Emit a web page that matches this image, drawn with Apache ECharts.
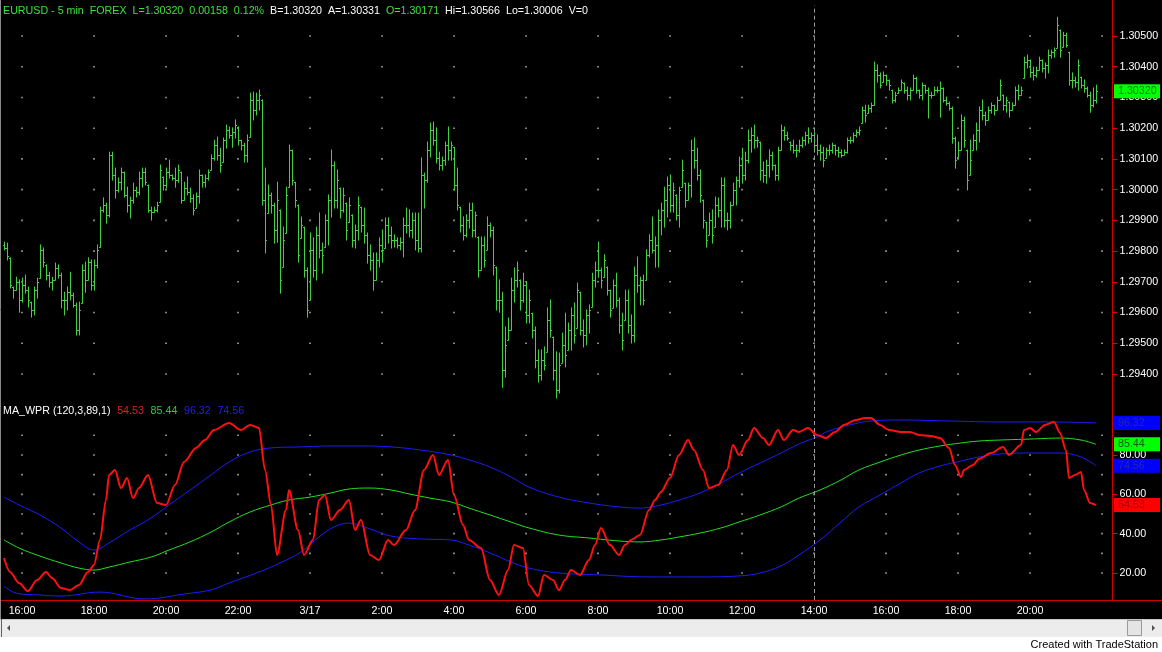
<!DOCTYPE html>
<html>
<head>
<meta charset="utf-8">
<script src="https://cdn.jsdelivr.net/npm/echarts@6.0.0/dist/echarts.min.js"></script>
<style>
html,body{margin:0;padding:0;background:#fff;}
#chart{width:1162px;height:652px;}
</style>
</head>
<body>
<div id="chart"></div>
<script>
// ---- time axis: 5-minute bars from 3/16 15:30 (extra empty slots at the end) ----
const startDay = 16, startMinute = 15 * 60 + 30, slotCount = 370, barMinutes = 5;
const categories = [];
for (let k = 0; k < slotCount; k++) {
  const t = startMinute + k * barMinutes;
  const d = startDay + Math.floor(t / 1440);
  const m = t % 1440;
  categories.push('3/' + d + ' ' + Math.floor(m / 60) + ':' + String(m % 60).padStart(2, '0'));
}

// ---- EURUSD 5 min OHLC ----
const opens = [1.29820,1.29810,1.29778,1.29683,1.29673,1.29699,1.29641,1.29690,1.29673,1.29634,
1.29608,1.29673,1.29712,1.29804,1.29755,1.29722,1.29699,1.29706,1.29745,1.29722,
1.29641,1.29641,1.29666,1.29657,1.29625,1.29543,1.29631,1.29738,1.29706,1.29764,
1.29690,1.29755,1.29813,1.29934,1.29950,1.29918,1.30113,1.30048,1.29999,1.30024,
1.30057,1.29983,1.29950,1.29966,1.29999,1.29992,1.30038,1.30057,1.30015,1.29934,
1.29927,1.29934,1.29959,1.30041,1.30015,1.30057,1.30048,1.30038,1.30031,1.30057,
1.29966,1.30005,1.29992,1.29973,1.29940,1.29979,1.30048,1.30024,1.30038,1.30064,
1.30103,1.30145,1.30113,1.30090,1.30161,1.30194,1.30178,1.30187,1.30204,1.30161,
1.30145,1.30113,1.30171,1.30292,1.30259,1.30292,1.30292,1.29966,1.29924,1.29983,
1.29950,1.29869,1.29934,1.29748,1.29859,1.30008,1.30129,1.30024,1.29950,1.29843,
1.29878,1.29738,1.29641,1.29804,1.29738,1.29853,1.29804,1.29813,1.29901,1.29966,
1.30080,1.29966,1.30005,1.29934,1.29956,1.29894,1.29918,1.29836,1.29869,1.29943,
1.29885,1.29853,1.29788,1.29771,1.29706,1.29771,1.29820,1.29810,1.29885,1.29853,
1.29836,1.29836,1.29820,1.29829,1.29885,1.29885,1.29869,1.29901,1.29836,1.29810,
1.30048,1.30031,1.30129,1.30194,1.30161,1.30103,1.30080,1.30096,1.30145,1.30129,
1.30138,1.30015,1.29943,1.29885,1.29853,1.29901,1.29934,1.29869,1.29846,1.29738,
1.29820,1.29804,1.29885,1.29869,1.29748,1.29641,1.29641,1.29413,1.29511,1.29543,
1.29673,1.29706,1.29706,1.29641,1.29690,1.29592,1.29598,1.29543,1.29446,1.29397,
1.29446,1.29472,1.29576,1.29520,1.29413,1.29348,1.29436,1.29495,1.29478,1.29543,
1.29592,1.29550,1.29666,1.29543,1.29527,1.29592,1.29618,1.29706,1.29738,1.29738,
1.29715,1.29748,1.29673,1.29615,1.29690,1.29641,1.29560,1.29576,1.29641,1.29560,
1.29527,1.29722,1.29690,1.29706,1.29706,1.29788,1.29836,1.29804,1.29820,1.29901,
1.29934,1.29966,1.30015,1.29950,1.29983,1.29918,1.30008,1.30021,1.29966,1.30015,
1.30129,1.30096,1.30048,1.29966,1.29894,1.29853,1.29901,1.29878,1.29950,1.29934,
1.30015,1.29901,1.29901,1.29950,1.29999,1.30031,1.30080,1.30048,1.30096,1.30161,
1.30178,1.30161,1.30155,1.30064,1.30048,1.30080,1.30113,1.30080,1.30048,1.30129,
1.30194,1.30178,1.30155,1.30145,1.30129,1.30129,1.30145,1.30161,1.30178,1.30168,
1.30178,1.30145,1.30129,1.30122,1.30103,1.30129,1.30129,1.30145,1.30129,1.30122,
1.30113,1.30122,1.30161,1.30161,1.30178,1.30187,1.30217,1.30259,1.30249,1.30266,
1.30275,1.30389,1.30373,1.30350,1.30373,1.30357,1.30324,1.30292,1.30314,1.30324,
1.30347,1.30324,1.30308,1.30324,1.30363,1.30324,1.30308,1.30340,1.30324,1.30308,
1.30308,1.30324,1.30324,1.30331,1.30292,1.30282,1.30266,1.30168,1.30106,1.30129,
1.30227,1.30129,1.30048,1.30129,1.30161,1.30194,1.30259,1.30243,1.30227,1.30259,
1.30275,1.30259,1.30292,1.30308,1.30275,1.30285,1.30259,1.30275,1.30324,1.30308,
1.30363,1.30415,1.30422,1.30383,1.30373,1.30389,1.30422,1.30396,1.30406,1.30438,
1.30447,1.30461,1.30519,1.30464,1.30503,1.30447,1.30357,1.30357,1.30350,1.30366,
1.30340,1.30331,1.30308,1.30275,1.30292];
const highs = [1.29829,1.29826,1.29778,1.29683,1.29715,1.29706,1.29712,1.29722,1.29683,1.29634,
1.29683,1.29712,1.29820,1.29810,1.29755,1.29731,1.29715,1.29761,1.29755,1.29728,
1.29666,1.29683,1.29731,1.29663,1.29631,1.29634,1.29755,1.29764,1.29778,1.29771,
1.29771,1.29820,1.29943,1.29973,1.29956,1.30122,1.30122,1.30070,1.30038,1.30070,
1.30057,1.30008,1.29976,1.30021,1.30008,1.30057,1.30070,1.30070,1.30015,1.29943,
1.29943,1.29959,1.30080,1.30041,1.30070,1.30096,1.30048,1.30070,1.30080,1.30057,
1.30024,1.30041,1.30005,1.29983,1.29989,1.30064,1.30048,1.30048,1.30064,1.30113,
1.30161,1.30171,1.30135,1.30168,1.30210,1.30204,1.30201,1.30227,1.30204,1.30161,
1.30151,1.30178,1.30314,1.30317,1.30314,1.30324,1.30292,1.30070,1.30015,1.29989,
1.29956,1.30024,1.29934,1.29878,1.30008,1.30145,1.30129,1.30024,1.29950,1.29911,
1.29878,1.29745,1.29859,1.29843,1.29878,1.29924,1.29826,1.29918,1.29983,1.30129,
1.30090,1.30064,1.30005,1.30005,1.29956,1.29973,1.29918,1.29885,1.29976,1.29943,
1.29940,1.29859,1.29820,1.29794,1.29794,1.29843,1.29869,1.29908,1.29908,1.29878,
1.29853,1.29843,1.29843,1.29908,1.29940,1.29934,1.29924,1.29924,1.29924,1.30103,
1.30054,1.30155,1.30217,1.30220,1.30201,1.30122,1.30106,1.30155,1.30204,1.30155,
1.30138,1.30070,1.29943,1.29911,1.29918,1.29956,1.29956,1.29927,1.29846,1.29846,
1.29846,1.29911,1.29891,1.29878,1.29748,1.29706,1.29666,1.29553,1.29582,1.29712,
1.29745,1.29764,1.29706,1.29728,1.29699,1.29673,1.29598,1.29553,1.29478,1.29478,
1.29488,1.29615,1.29641,1.29520,1.29472,1.29468,1.29533,1.29598,1.29566,1.29615,
1.29631,1.29696,1.29666,1.29576,1.29608,1.29625,1.29728,1.29764,1.29829,1.29745,
1.29788,1.29748,1.29673,1.29706,1.29728,1.29647,1.29598,1.29673,1.29673,1.29592,
1.29748,1.29781,1.29715,1.29722,1.29804,1.29853,1.29911,1.29846,1.29934,1.29956,
1.30008,1.30041,1.30048,1.30021,1.29983,1.30008,1.30096,1.30021,1.30021,1.30161,
1.30168,1.30135,1.30064,1.29966,1.29894,1.29924,1.29934,1.29976,1.29973,1.30038,
1.30038,1.29924,1.29959,1.30021,1.30041,1.30106,1.30135,1.30122,1.30194,1.30201,
1.30210,1.30171,1.30155,1.30090,1.30096,1.30129,1.30122,1.30080,1.30138,1.30210,
1.30204,1.30187,1.30155,1.30161,1.30145,1.30161,1.30171,1.30187,1.30201,1.30184,
1.30187,1.30178,1.30145,1.30138,1.30135,1.30145,1.30151,1.30145,1.30138,1.30129,
1.30129,1.30168,1.30171,1.30184,1.30194,1.30204,1.30269,1.30275,1.30275,1.30282,
1.30415,1.30406,1.30380,1.30383,1.30373,1.30357,1.30324,1.30317,1.30331,1.30357,
1.30347,1.30334,1.30331,1.30373,1.30366,1.30324,1.30347,1.30340,1.30331,1.30317,
1.30334,1.30334,1.30350,1.30331,1.30301,1.30285,1.30269,1.30171,1.30155,1.30243,
1.30236,1.30129,1.30161,1.30178,1.30217,1.30269,1.30292,1.30252,1.30269,1.30282,
1.30275,1.30301,1.30357,1.30308,1.30301,1.30285,1.30282,1.30334,1.30340,1.30334,
1.30431,1.30438,1.30422,1.30399,1.30399,1.30431,1.30422,1.30412,1.30454,1.30454,
1.30461,1.30561,1.30519,1.30512,1.30509,1.30447,1.30380,1.30366,1.30422,1.30366,
1.30357,1.30334,1.30317,1.30331,1.30340];
const lows = [1.29804,1.29771,1.29680,1.29647,1.29673,1.29601,1.29634,1.29663,1.29618,1.29585,
1.29592,1.29647,1.29712,1.29748,1.29706,1.29683,1.29673,1.29706,1.29712,1.29615,
1.29592,1.29608,1.29641,1.29618,1.29527,1.29527,1.29631,1.29666,1.29706,1.29673,
1.29673,1.29745,1.29813,1.29927,1.29891,1.29911,1.30031,1.29973,1.29992,1.29999,
1.29976,1.29927,1.29908,1.29956,1.29976,1.29983,1.30008,1.30015,1.29927,1.29901,
1.29927,1.29927,1.29959,1.29999,1.30005,1.30038,1.30031,1.30008,1.30024,1.29956,
1.29966,1.29983,1.29959,1.29918,1.29940,1.29956,1.30008,1.30008,1.30031,1.30064,
1.30096,1.30096,1.30057,1.30090,1.30135,1.30168,1.30138,1.30168,1.30145,1.30129,
1.30090,1.30090,1.30171,1.30227,1.30243,1.30259,1.29950,1.29794,1.29924,1.29924,
1.29826,1.29829,1.29663,1.29748,1.29859,1.30008,1.30015,1.29943,1.29764,1.29843,
1.29715,1.29585,1.29641,1.29715,1.29706,1.29778,1.29728,1.29813,1.29820,1.29911,
1.29940,1.29940,1.29908,1.29927,1.29836,1.29894,1.29813,1.29810,1.29836,1.29862,
1.29826,1.29761,1.29738,1.29673,1.29706,1.29748,1.29764,1.29810,1.29826,1.29810,
1.29813,1.29810,1.29804,1.29781,1.29859,1.29846,1.29843,1.29804,1.29797,1.29797,
1.29940,1.30024,1.30106,1.30145,1.30087,1.30064,1.30064,1.30080,1.30096,1.30096,
1.29999,1.29934,1.29862,1.29836,1.29846,1.29875,1.29846,1.29846,1.29715,1.29738,
1.29748,1.29804,1.29846,1.29722,1.29608,1.29601,1.29357,1.29390,1.29511,1.29543,
1.29634,1.29683,1.29608,1.29634,1.29566,1.29566,1.29517,1.29420,1.29374,1.29380,
1.29413,1.29472,1.29520,1.29380,1.29322,1.29338,1.29436,1.29423,1.29478,1.29478,
1.29501,1.29550,1.29527,1.29488,1.29495,1.29533,1.29618,1.29683,1.29715,1.29680,
1.29715,1.29657,1.29585,1.29615,1.29618,1.29533,1.29478,1.29576,1.29533,1.29501,
1.29504,1.29666,1.29625,1.29625,1.29706,1.29781,1.29794,1.29748,1.29748,1.29853,
1.29878,1.29911,1.29927,1.29927,1.29901,1.29878,1.30008,1.29943,1.29966,1.29976,
1.30070,1.30031,1.29959,1.29875,1.29813,1.29853,1.29826,1.29878,1.29911,1.29878,
1.29878,1.29869,1.29875,1.29950,1.29950,1.30008,1.30021,1.30031,1.30087,1.30122,
1.30135,1.30138,1.30031,1.30024,1.30021,1.30041,1.30064,1.30031,1.30031,1.30129,
1.30161,1.30161,1.30129,1.30119,1.30106,1.30122,1.30138,1.30145,1.30151,1.30155,
1.30129,1.30113,1.30096,1.30074,1.30103,1.30113,1.30119,1.30113,1.30106,1.30106,
1.30113,1.30119,1.30151,1.30155,1.30171,1.30178,1.30217,1.30220,1.30249,1.30252,
1.30275,1.30350,1.30331,1.30350,1.30340,1.30324,1.30282,1.30285,1.30314,1.30324,
1.30314,1.30292,1.30292,1.30324,1.30314,1.30298,1.30292,1.30314,1.30233,1.30298,
1.30308,1.30317,1.30236,1.30285,1.30275,1.30259,1.30151,1.30070,1.30106,1.30129,
1.30138,1.29999,1.30048,1.30129,1.30129,1.30155,1.30227,1.30210,1.30227,1.30249,
1.30243,1.30259,1.30292,1.30259,1.30252,1.30236,1.30259,1.30275,1.30292,1.30308,
1.30363,1.30396,1.30366,1.30357,1.30366,1.30389,1.30383,1.30363,1.30380,1.30428,
1.30431,1.30461,1.30431,1.30464,1.30464,1.30340,1.30331,1.30334,1.30324,1.30331,
1.30317,1.30301,1.30252,1.30269,1.30282];
const closes = [1.29810,1.29784,1.29690,1.29673,1.29699,1.29641,1.29690,1.29673,1.29641,1.29608,
1.29673,1.29699,1.29804,1.29764,1.29722,1.29699,1.29706,1.29745,1.29722,1.29641,
1.29641,1.29666,1.29657,1.29625,1.29543,1.29608,1.29738,1.29706,1.29764,1.29690,
1.29755,1.29804,1.29934,1.29950,1.29918,1.30113,1.30048,1.29999,1.30024,1.30057,
1.29983,1.29950,1.29966,1.29999,1.29992,1.30038,1.30057,1.30024,1.29934,1.29927,
1.29934,1.29950,1.30064,1.30015,1.30057,1.30048,1.30038,1.30031,1.30064,1.29966,
1.30005,1.29992,1.29973,1.29934,1.29979,1.30048,1.30024,1.30038,1.30057,1.30103,
1.30145,1.30113,1.30080,1.30161,1.30194,1.30178,1.30187,1.30210,1.30161,1.30145,
1.30113,1.30161,1.30292,1.30259,1.30292,1.30308,1.29966,1.29836,1.29983,1.29950,
1.29869,1.29966,1.29706,1.29836,1.29983,1.30129,1.30031,1.29966,1.29788,1.29885,
1.29738,1.29608,1.29804,1.29738,1.29853,1.29804,1.29788,1.29901,1.29966,1.30080,
1.29966,1.30031,1.29934,1.29983,1.29869,1.29950,1.29836,1.29869,1.29950,1.29885,
1.29853,1.29788,1.29771,1.29706,1.29771,1.29820,1.29804,1.29885,1.29853,1.29836,
1.29836,1.29820,1.29829,1.29885,1.29885,1.29869,1.29901,1.29836,1.29810,1.30048,
1.30031,1.30129,1.30194,1.30161,1.30103,1.30080,1.30096,1.30145,1.30129,1.30145,
1.30015,1.29950,1.29885,1.29853,1.29901,1.29934,1.29869,1.29918,1.29738,1.29820,
1.29771,1.29885,1.29869,1.29755,1.29641,1.29641,1.29413,1.29495,1.29543,1.29673,
1.29706,1.29738,1.29641,1.29690,1.29592,1.29641,1.29543,1.29446,1.29397,1.29446,
1.29430,1.29576,1.29543,1.29413,1.29348,1.29430,1.29495,1.29462,1.29543,1.29592,
1.29527,1.29673,1.29543,1.29527,1.29592,1.29608,1.29706,1.29738,1.29738,1.29706,
1.29771,1.29673,1.29608,1.29690,1.29641,1.29560,1.29511,1.29641,1.29560,1.29527,
1.29722,1.29690,1.29706,1.29641,1.29788,1.29836,1.29804,1.29820,1.29901,1.29934,
1.29966,1.30015,1.29950,1.29999,1.29918,1.29999,1.30064,1.29966,1.30015,1.30129,
1.30096,1.30048,1.29983,1.29901,1.29836,1.29901,1.29853,1.29950,1.29934,1.30015,
1.29901,1.29901,1.29950,1.29999,1.30031,1.30080,1.30048,1.30096,1.30161,1.30178,
1.30161,1.30161,1.30064,1.30048,1.30080,1.30113,1.30080,1.30048,1.30129,1.30194,
1.30178,1.30168,1.30145,1.30129,1.30129,1.30145,1.30161,1.30178,1.30168,1.30178,
1.30145,1.30129,1.30122,1.30096,1.30129,1.30129,1.30145,1.30129,1.30122,1.30113,
1.30122,1.30161,1.30161,1.30178,1.30187,1.30194,1.30259,1.30243,1.30266,1.30275,
1.30389,1.30373,1.30340,1.30373,1.30357,1.30340,1.30292,1.30308,1.30324,1.30350,
1.30324,1.30308,1.30324,1.30363,1.30324,1.30308,1.30340,1.30324,1.30308,1.30308,
1.30324,1.30324,1.30331,1.30292,1.30282,1.30266,1.30168,1.30096,1.30129,1.30227,
1.30161,1.30031,1.30096,1.30161,1.30194,1.30259,1.30243,1.30227,1.30259,1.30275,
1.30259,1.30292,1.30340,1.30275,1.30292,1.30259,1.30275,1.30324,1.30308,1.30324,
1.30415,1.30422,1.30383,1.30373,1.30389,1.30422,1.30396,1.30406,1.30438,1.30447,
1.30454,1.30536,1.30454,1.30503,1.30471,1.30357,1.30357,1.30350,1.30406,1.30340,
1.30331,1.30308,1.30275,1.30292,1.30320];

// ---- MA_WPR (120,3,89,1) : [bar number, value] ----
const wprLine = [[0,27.6],[2,20.5],[5,14.9],[8,10.8],[11,16.4],[14,20.5],[16,17.5],[19,12.4],[22,11.3],[25,13.9],[28,20.5],[30,24.1],[32,36.8],[34,57.1],[35,69.8],[37,72.4],[39,63.2],[41,68.3],[43,58.1],[45,63.2],[48,69.8],[51,55.6],[54,54.6],[57,64.7],[60,76.4],[64,83.6],[67,87.6],[70,92.7],[75,96.3],[79,92.7],[82,95.3],[85,93.7],[87,72.4],[89,54.6],[91,29.2],[94,52.0],[95,62.2],[98,41.9],[100,29.2],[103,36.8],[105,57.1],[107,59.7],[109,46.9],[112,52.0],[115,57.1],[117,41.9],[119,46.9],[122,29.2],[125,26.6],[128,36.8],[130,34.2],[134,41.9],[137,52.0],[140,72.4],[143,80.0],[145,69.8],[148,77.5],[150,59.7],[153,44.4],[155,36.8],[159,32.7],[162,16.4],[165,8.8],[168,21.5],[170,34.2],[173,32.7],[175,13.9],[178,8.3],[180,19.0],[183,16.4],[185,11.3],[187,16.4],[189,21.5],[192,19.0],[195,26.6],[197,34.2],[199,42.9],[202,34.2],[205,29.2],[207,34.2],[209,36.8],[212,39.3],[215,52.0],[217,57.1],[219,61.2],[222,68.3],[225,80.0],[228,87.6],[230,82.5],[233,72.4],[235,63.2],[238,64.7],[241,72.4],[243,85.1],[245,80.0],[248,87.6],[250,93.7],[253,88.6],[255,85.1],[258,92.7],[260,87.6],[263,92.7],[265,91.7],[268,93.7],[271,90.2],[274,88.6],[277,91.7],[280,95.3],[284,97.8],[287,98.8],[289,98.8],[292,95.3],[295,92.7],[299,91.7],[302,91.7],[305,90.2],[309,89.7],[312,88.6],[315,83.6],[317,74.9],[319,68.8],[320,72.4],[323,74.9],[325,78.0],[329,81.0],[333,84.1],[335,80.0],[339,85.1],[340,92.7],[342,93.7],[344,91.7],[347,95.3],[350,96.8],[352,91.2],[354,82.5],[355,68.3],[357,69.8],[359,71.4],[360,62.2],[362,55.6],[364,54.53]];
const maLine = [[0,36.8],[5,32.7],[12,28.6],[19,25.1],[25,22.5],[30,21.5],[35,23.0],[42,25.6],[49,28.1],[55,31.7],[62,35.8],[69,40.8],[75,45.9],[82,51.0],[89,54.6],[95,57.1],[102,58.6],[109,60.7],[115,62.7],[122,63.2],[129,62.2],[135,60.2],[142,58.1],[149,56.1],[155,53.0],[162,49.5],[169,45.9],[175,42.9],[185,39.3],[195,37.8],[205,36.3],[212,35.8],[219,36.8],[225,38.3],[232,40.3],[239,42.9],[245,45.9],[252,49.5],[259,53.6],[265,58.1],[272,62.2],[279,67.3],[285,72.4],[292,76.4],[299,80.0],[305,82.5],[312,84.6],[319,86.1],[325,87.1],[332,87.6],[342,88.1],[352,88.6],[359,87.6],[364,85.44]];
const upperBand = [[0,58.6],[5,54.6],[12,49.5],[19,42.9],[25,35.8],[30,31.7],[35,35.3],[42,41.9],[49,48.0],[55,54.6],[62,62.2],[69,69.8],[75,76.4],[82,81.5],[89,83.6],[99,84.1],[109,84.6],[119,84.6],[129,84.1],[139,82.5],[149,80.0],[155,77.5],[162,73.9],[169,68.8],[175,63.7],[185,58.6],[195,55.6],[205,53.6],[212,53.0],[219,54.6],[225,57.1],[232,60.7],[239,65.8],[245,70.8],[252,75.9],[259,81.0],[265,85.6],[271,89.2],[275,92.2],[282,95.3],[289,97.3],[299,97.8],[315,97.3],[332,96.8],[349,96.8],[364,96.32]];
const lowerBand = [[0,13.4],[4,9.8],[12,8.8],[19,8.3],[32,10.3],[47,6.8],[60,9.3],[69,11.4],[75,14.9],[85,20.5],[92,25.1],[99,30.7],[105,38.3],[110,43.4],[115,45.4],[122,42.4],[129,38.8],[139,37.3],[149,36.8],[155,34.2],[162,30.2],[169,25.6],[175,22.5],[185,20.0],[199,19.0],[215,18.0],[232,18.0],[245,18.5],[252,20.0],[259,23.6],[265,29.2],[272,36.8],[279,45.9],[285,53.6],[292,59.7],[299,65.8],[305,70.8],[312,74.4],[319,76.9],[325,79.0],[332,80.5],[342,81.0],[352,81.0],[359,79.0],[364,74.56]];

// ---- axis ticks ----
const priceTicks = [1.294,1.295,1.296,1.297,1.298,1.299,1.300,1.301,1.302,1.303,1.304,1.305];
const wprTicks = [20, 40, 60, 80];
const wprGridLevels = [20, 30, 40, 50, 60, 70, 80, 90];
const cursorTime = '3/17 14:00';

const FONT = 'Liberation Sans, Arial, sans-serif';
const AXIS_RED = '#d00000';
const BAR_GREEN = '#40d040';
const barCount = opens.length;
const lastClose = closes[barCount - 1];

function isMajor(v) {
  const [h, m] = v.split(' ')[1].split(':');
  return m === '00' && (+h) % 2 === 0;
}
const majorIdx = [];
categories.forEach((c, i) => { if (isMajor(c)) majorIdx.push(i); });

const dotsTop = [];
majorIdx.forEach(i => priceTicks.forEach(p => dotsTop.push([i, p])));
const dotsBottom = [];
majorIdx.forEach(i => wprGridLevels.forEach(v => dotsBottom.push([i, v])));

const ohlc = opens.map((o, i) => [i, o, highs[i], lows[i], closes[i]]);
const last = a => a[a.length - 1][1];

function lastBox(value, digits, bg, fg) {
  return {
    yAxis: value,
    lineStyle: { color: 'transparent', width: 0 },
    label: {
      show: true, position: 'end', distance: 1.5,
      formatter: () => value.toFixed(digits),
      backgroundColor: bg, color: fg,
      fontFamily: FONT, fontSize: 10.7, lineHeight: 12,
      padding: [1, 4, 1, 4], width: 38, align: 'left'
    }
  };
}
const cursorLine = {
  xAxis: cursorTime,
  lineStyle: { color: '#9a9a9a', type: [4, 3], width: 1 },
  label: { show: false }
};

const chart = echarts.init(document.getElementById('chart'), null, { renderer: 'canvas' });
const option = {
  backgroundColor: '#000',
  animation: false,
  textStyle: { fontFamily: FONT },
  grid: [
    { left: 2.5, width: 1110, top: 5.3, height: 399.4 },
    { left: 2.5, width: 1110, top: 406, height: 194 }
  ],
  xAxis: [
    { type: 'category', gridIndex: 0, data: categories, boundaryGap: true, show: false },
    {
      type: 'category', gridIndex: 1, data: categories, boundaryGap: true,
      axisLine: { lineStyle: { color: AXIS_RED, width: 1 } },
      axisTick: { interval: (i, v) => isMajor(v) && i < barCount, alignWithLabel: true, length: 4, lineStyle: { color: AXIS_RED } },
      axisLabel: {
        interval: (i, v) => isMajor(v) && i < barCount,
        formatter: v => { const [d, t] = v.split(' '); return t === '0:00' ? d : t; },
        color: '#ffffff', fontSize: 10.7, fontFamily: FONT, margin: 6
      },
      splitLine: { show: false }
    }
  ],
  yAxis: [
    {
      type: 'value', gridIndex: 0, position: 'right', min: 1.293, max: 1.306, interval: 0.001,
      axisLine: { show: true, lineStyle: { color: AXIS_RED } },
      axisTick: { show: true, length: 5, lineStyle: { color: AXIS_RED } },
      axisLabel: { color: '#ffffff', fontSize: 10.7, fontFamily: FONT, margin: 7,
        formatter: v => v.toFixed(5), showMinLabel: false, showMaxLabel: false },
      splitLine: { show: false }
    },
    {
      type: 'value', gridIndex: 1, position: 'right', min: 6.27, max: 104.91,
      axisLine: { show: true, lineStyle: { color: AXIS_RED } },
      axisTick: { show: true, length: 5, lineStyle: { color: AXIS_RED }, customValues: wprTicks },
      axisLabel: { color: '#ffffff', fontSize: 10.7, fontFamily: FONT, margin: 7,
        customValues: wprTicks, formatter: v => v.toFixed(2) },
      splitLine: { show: false }
    }
  ],
  series: [
    {
      type: 'scatter', xAxisIndex: 0, yAxisIndex: 0, data: dotsTop, silent: true,
      symbol: 'rect', symbolSize: 1.6, itemStyle: { color: '#cfcfcf' }, z: 1
    },
    {
      type: 'scatter', xAxisIndex: 1, yAxisIndex: 1, data: dotsBottom, silent: true,
      symbol: 'rect', symbolSize: 1.6, itemStyle: { color: '#cfcfcf' }, z: 1
    },
    {
      type: 'custom', xAxisIndex: 0, yAxisIndex: 0, data: ohlc, silent: true,
      encode: { x: 0, y: [2, 3] },
      renderItem: (params, api) => {
        const idx = api.value(0);
        const o = api.coord([idx, api.value(1)]);
        const h = api.coord([idx, api.value(2)]);
        const l = api.coord([idx, api.value(3)]);
        const c = api.coord([idx, api.value(4)]);
        const x = Math.round(h[0]) + 0.5;
        const st = { stroke: BAR_GREEN, lineWidth: 1 };
        return {
          type: 'group', children: [
            { type: 'line', shape: { x1: x, y1: h[1] - 0.5, x2: x, y2: l[1] + 0.5 }, style: st },
            { type: 'line', shape: { x1: x - 1.5, y1: Math.round(o[1]) + 0.5, x2: x, y2: Math.round(o[1]) + 0.5 }, style: st },
            { type: 'line', shape: { x1: x, y1: Math.round(c[1]) + 0.5, x2: x + 1.5, y2: Math.round(c[1]) + 0.5 }, style: st }
          ]
        };
      },
      markLine: {
        silent: true, symbol: ['none', 'none'], animation: false,
        data: [cursorLine]
      },
      z: 3
    },
    {
      // carrier of the last-price marker on the price panel
      name: 'lastPrice', type: 'line', xAxisIndex: 0, yAxisIndex: 0,
      data: [[barCount - 1, lastClose]], showSymbol: false, silent: true,
      lineStyle: { opacity: 0 },
      markLine: { silent: true, precision: 5, symbol: ['none', 'none'], data: [lastBox(lastClose, 5, '#00ff00', '#007a00')] },
      z: 4
    },
    {
      name: 'upper', type: 'line', xAxisIndex: 1, yAxisIndex: 1, data: upperBand,
      smooth: 0.4, showSymbol: false, silent: true,
      lineStyle: { color: '#1c1cff', width: 1 },
      markLine: { silent: true, precision: 2, symbol: ['none', 'none'], data: [lastBox(last(upperBand), 2, '#0000ff', '#2626a8')] },
      z: 3
    },
    {
      name: 'lower', type: 'line', xAxisIndex: 1, yAxisIndex: 1, data: lowerBand,
      smooth: 0.4, showSymbol: false, silent: true,
      lineStyle: { color: '#1c1cff', width: 1 },
      markLine: { silent: true, precision: 2, symbol: ['none', 'none'], data: [lastBox(last(lowerBand), 2, '#0000ff', '#2626a8')] },
      z: 3
    },
    {
      name: 'ma', type: 'line', xAxisIndex: 1, yAxisIndex: 1, data: maLine,
      smooth: 0.4, showSymbol: false, silent: true,
      lineStyle: { color: '#22e022', width: 1 },
      markLine: { silent: true, precision: 2, symbol: ['none', 'none'], data: [cursorLine, lastBox(last(maLine), 2, '#00ff00', '#005800')] },
      z: 3
    },
    {
      name: 'wpr', type: 'line', xAxisIndex: 1, yAxisIndex: 1, data: wprLine,
      smooth: 0.3, smoothMonotone: 'x', showSymbol: false, silent: true,
      lineStyle: { color: '#ff1010', width: 2 },
      markLine: { silent: true, precision: 2, symbol: ['none', 'none'], data: [lastBox(last(wprLine), 2, '#ff0000', '#a00000')] },
      z: 4
    }
  ],
  graphic: [
    { type: 'line', shape: { x1: 0, y1: 600.5, x2: 1162, y2: 600.5 }, style: { stroke: AXIS_RED, lineWidth: 1 }, z: 5 },
    { type: 'line', shape: { x1: 1112.5, y1: 0, x2: 1112.5, y2: 600 }, style: { stroke: AXIS_RED, lineWidth: 1 }, z: 5 },
    { type: 'line', shape: { x1: 0.5, y1: 0, x2: 0.5, y2: 619 }, style: { stroke: '#8a8a8a', lineWidth: 1 }, z: 5 },
    {
      type: 'text', left: 3, top: 6, z: 10,
      style: {
        text: '{g|EURUSD - 5 min  FOREX  L=1.30320  0.00158  0.12%}{w|  B=1.30320  A=1.30331  }{g|O=1.30171}{w|  Hi=1.30566  Lo=1.30006  V=0}',
        rich: {
          g: { fill: '#3ee03e', fontSize: 10.7, fontFamily: FONT },
          w: { fill: '#ffffff', fontSize: 10.7, fontFamily: FONT }
        }
      }
    },
    {
      type: 'text', left: 3, top: 405, z: 10,
      style: {
        text: '{w|MA_WPR (120,3,89,1)}  {r|54.53}  {g|85.44}  {b|96.32}  {b|74.56}',
        rich: {
          w: { fill: '#ffffff', fontSize: 10.7, fontFamily: FONT },
          r: { fill: '#e02020', fontSize: 10.7, fontFamily: FONT },
          g: { fill: '#2ccc2c', fontSize: 10.7, fontFamily: FONT },
          b: { fill: '#2020e0', fontSize: 10.7, fontFamily: FONT }
        }
      }
    },
    // scrollbar strip and footer
    { type: 'rect', shape: { x: 0, y: 619, width: 1162, height: 18 }, style: { fill: '#ececec' }, z: 5 },
    { type: 'line', shape: { x1: 0, y1: 619.5, x2: 1162, y2: 619.5 }, style: { stroke: '#c8c8c8' }, z: 6 },
    { type: 'rect', shape: { x: 0, y: 637, width: 1162, height: 15 }, style: { fill: '#ffffff' }, z: 5 },
    { type: 'line', shape: { x1: 1.5, y1: 619, x2: 1.5, y2: 637 }, style: { stroke: '#606060' }, z: 6 },
    { type: 'polygon', shape: { points: [[7, 628], [10, 625], [10, 631]] }, style: { fill: '#505050' }, z: 6 },
    { type: 'rect', shape: { x: 1127.5, y: 620.5, width: 14, height: 15 }, style: { fill: '#e4e4e4', stroke: '#9a9a9a' }, z: 6 },
    { type: 'polygon', shape: { points: [[1152, 625], [1155, 628], [1152, 631]] }, style: { fill: '#505050' }, z: 6 },
    {
      type: 'text', right: 4, top: 639, z: 10,
      style: { text: 'Created with TradeStation', fill: '#000000', fontSize: 11, fontFamily: FONT }
    }
  ]
};
chart.setOption(option);
</script>
</body>
</html>
